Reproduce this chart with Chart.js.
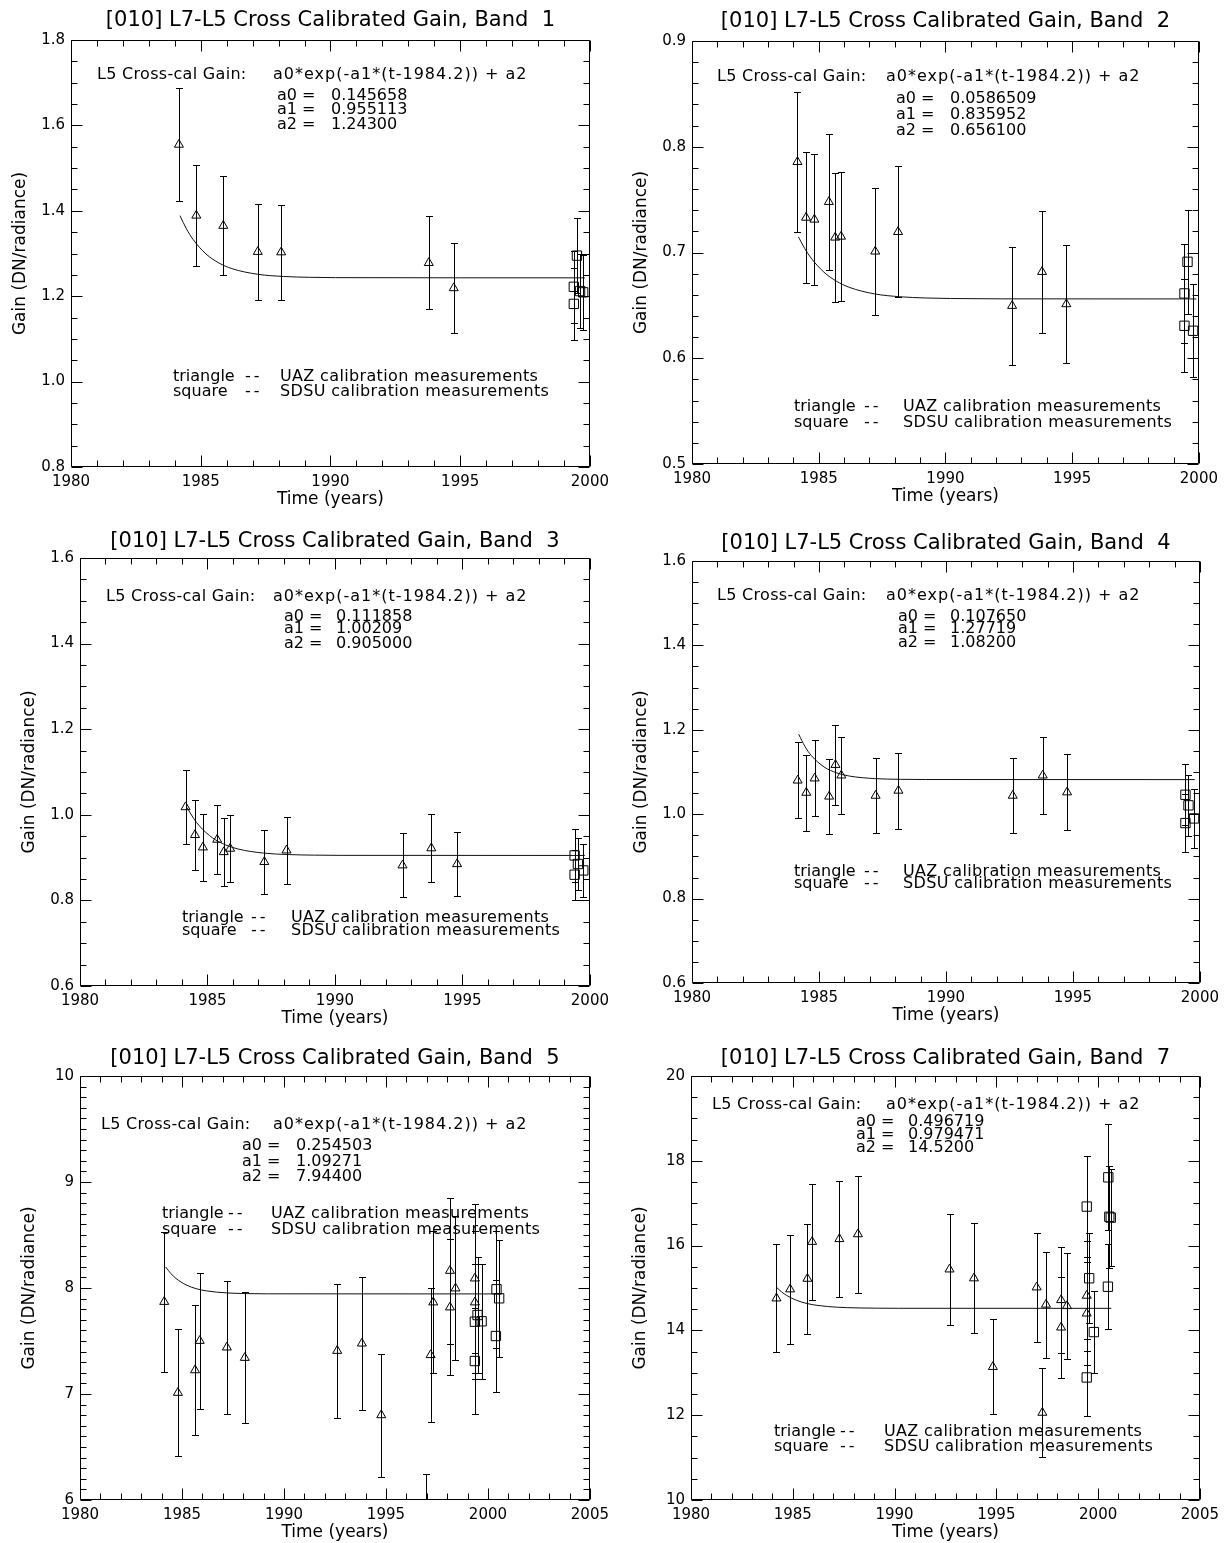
<!DOCTYPE html>
<html>
<head>
<meta charset="utf-8">
<script src="https://cdn.jsdelivr.net/npm/chart.js@4.4.1/dist/chart.umd.min.js"></script>
<style>
html, body { margin: 0; padding: 0; background: #fff; }
body { width: 1228px; height: 1543px; position: relative; overflow: hidden; }
.panel { position: absolute; }
.panel canvas { display: block; }
</style>
</head>
<body>
<script>
// ---------------- DATA ----------------
const bandNames = ['1', '2', '3', '4', '5', '7'];
const a0Text = ['0.145658', '0.0586509', '0.111858', '0.107650', '0.254503', '0.496719'];
const a1Text = ['0.955113', '0.835952', '1.00209', '1.27719', '1.09271', '0.979471'];
const a2Text = ['1.24300', '0.656100', '0.905000', '1.08200', '7.94400', '14.5200'];

const xMinVal = [1980, 1980, 1980, 1980, 1980, 1980];
const xMaxVal = [2000, 2000, 2000, 2000, 2005, 2005];
const yMinVal = [0.8, 0.5, 0.6, 0.6, 6, 10];
const yMaxVal = [1.8, 0.9, 1.6, 1.6, 10, 20];
const yTickStep = [0.2, 0.1, 0.2, 0.2, 1, 2];
const yMinorStep = [0.05, 0.02, 0.05, 0.05, 0.1, 0.5];
const yTickDecimals = [1, 1, 1, 1, 0, 0];
const xTickStep = 5;
const xMinorStep = 1;

// Band 1
const band1UazTime = [1984.16, 1984.83, 1985.87, 1987.2, 1988.1, 1993.79, 1994.75];
const band1UazGain = [1.555, 1.389, 1.365, 1.304, 1.303, 1.278, 1.219];
const band1UazErr  = [0.133, 0.118, 0.116, 0.112, 0.111, 0.109, 0.105];
const band1SdsuTime = [1999.38, 1999.38, 1999.5, 1999.62, 1999.74];
const band1SdsuGain = [1.222, 1.182, 1.295, 1.212, 1.209];
const band1SdsuErr  = [0.085, 0.085, 0.088, 0.087, 0.087];
const band1FitTime = [1984.2, 1984.45, 1984.7, 1985.2, 1985.7, 1986.2, 1987.2, 1988.2, 1989.2, 1990.2, 1999.8];
const band1FitGain = [1.3887, 1.3577, 1.3334, 1.2991, 1.2778, 1.2646, 1.2513, 1.2462, 1.2442, 1.2435, 1.2430];

// Band 2
const band2UazTime = [1984.16, 1984.5, 1984.83, 1985.4, 1985.65, 1985.88, 1987.23, 1988.13, 1992.63, 1993.81, 1994.77];
const band2UazGain = [0.7857, 0.733, 0.7312, 0.7479, 0.7142, 0.7151, 0.701, 0.7195, 0.6496, 0.6817, 0.6512];
const band2UazErr  = [0.066, 0.062, 0.062, 0.064, 0.061, 0.061, 0.06, 0.062, 0.056, 0.058, 0.056];
const band2SdsuTime = [1999.43, 1999.43, 1999.55, 1999.77];
const band2SdsuGain = [0.6613, 0.6307, 0.6912, 0.626];
const band2SdsuErr  = [0.047, 0.044, 0.049, 0.044];
const band2FitTime = [1984.2, 1984.45, 1984.7, 1985.2, 1985.7, 1986.2, 1987.2, 1988.2, 1989.2, 1990.2, 1992.2, 1999.9];
const band2FitGain = [0.71475, 0.70369, 0.69472, 0.68152, 0.67284, 0.66712, 0.66088, 0.65817, 0.657, 0.65649, 0.65617, 0.6561];

// Band 3
const band3UazTime = [1984.14, 1984.51, 1984.82, 1985.38, 1985.64, 1985.89, 1987.23, 1988.1, 1992.65, 1993.78, 1994.79];
const band3UazGain = [1.018, 0.953, 0.924, 0.942, 0.913, 0.921, 0.890, 0.917, 0.882, 0.922, 0.885];
const band3UazErr  = [0.086, 0.082, 0.079, 0.08, 0.079, 0.078, 0.075, 0.078, 0.075, 0.079, 0.075];
const band3SdsuTime = [1999.4, 1999.4, 1999.53, 1999.74];
const band3SdsuGain = [0.905, 0.860, 0.885, 0.870];
const band3SdsuErr  = [0.062, 0.058, 0.060, 0.062];
const band3FitTime = [1984.2, 1984.45, 1984.7, 1985.2, 1985.7, 1986.2, 1987.2, 1988.2, 1989.2, 1990.2, 1999.8];
const band3FitGain = [1.01686, 0.99207, 0.97278, 0.94606, 0.92988, 0.92008, 0.91053, 0.90703, 0.90575, 0.90527, 0.905];

// Band 4
const band4UazTime = [1984.16, 1984.5, 1984.83, 1985.4, 1985.65, 1985.88, 1987.23, 1988.13, 1992.63, 1993.81, 1994.77];
const band4UazGain = [1.080, 1.051, 1.085, 1.042, 1.117, 1.092, 1.044, 1.056, 1.044, 1.092, 1.052];
const band4UazErr  = [0.09, 0.09, 0.09, 0.089, 0.095, 0.092, 0.088, 0.09, 0.088, 0.092, 0.09];
const band4SdsuTime = [1999.43, 1999.43, 1999.55, 1999.77];
const band4SdsuGain = [1.046, 0.979, 1.021, 0.990];
const band4SdsuErr  = [0.072, 0.068, 0.073, 0.07];
const band4FitTime = [1984.2, 1984.45, 1984.7, 1985.2, 1985.7, 1986.2, 1987.2, 1988.2, 1989.2, 1999.8];
const band4FitGain = [1.18965, 1.16023, 1.13884, 1.11201, 1.09785, 1.09037, 1.08433, 1.08265, 1.08218, 1.082];

// Band 5
const band5UazTime = [1984.13, 1984.8, 1985.64, 1985.87, 1987.2, 1988.08, 1992.61, 1993.82, 1994.77, 1996.94, 1997.19, 1997.32, 1998.14, 1998.14, 1998.41, 1999.36, 1999.36];
const band5UazGain = [7.87, 7.012, 7.225, 7.502, 7.44, 7.342, 7.408, 7.477, 6.801, 5.65, 7.368, 7.865, 8.163, 7.818, 7.997, 8.091, 7.865];
const band5UazErr  = [0.66, 0.6, 0.61, 0.64, 0.63, 0.62, 0.63, 0.63, 0.58, 0.6, 0.63, 0.67, 0.69, 0.64, 0.68, 0.7, 0.67];
const band5SdsuTime = [1999.36, 1999.36, 1999.49, 1999.69, 2000.39, 2000.42, 2000.55];
const band5SdsuGain = [7.311, 7.682, 7.745, 7.686, 7.547, 7.988, 7.903];
const band5SdsuErr  = [0.5, 0.54, 0.55, 0.54, 0.53, 0.55, 0.55];
const band5FitTime = [1984.2, 1984.45, 1984.7, 1985.2, 1985.7, 1986.2, 1987.2, 1988.2, 1989.2, 2000.7];
const band5FitGain = [8.1985, 8.13765, 8.09136, 8.02933, 7.9934, 7.97261, 7.95359, 7.94722, 7.94508, 7.944];

// Band 7
const band7UazTime = [1984.2, 1984.87, 1985.72, 1985.95, 1987.29, 1988.2, 1992.7, 1993.9, 1994.83, 1996.98, 1997.26, 1997.44, 1998.18, 1998.18, 1998.47, 1999.44, 1999.44];
const band7UazGain = [14.757, 14.97, 15.22, 16.09, 16.156, 16.27, 15.44, 15.23, 13.14, 15.016, 12.06, 14.61, 14.717, 14.07, 14.575, 14.82, 14.4];
const band7UazErr  = [1.27, 1.28, 1.3, 1.37, 1.37, 1.38, 1.31, 1.3, 1.12, 1.28, 1.05, 1.25, 1.25, 1.2, 1.24, 1.3, 1.22];
const band7SdsuTime = [1999.44, 1999.44, 1999.56, 1999.79, 2000.48, 2000.5, 2000.55, 2000.62];
const band7SdsuGain = [16.92, 12.89, 15.23, 13.96, 15.03, 17.61, 16.68, 16.66];
const band7SdsuErr  = [1.2, 0.9, 1.06, 0.96, 1.0, 1.25, 1.2, 1.15];
const band7FitTime = [1984.2, 1984.45, 1984.7, 1985.2, 1985.7, 1986.2, 1987.2, 1988.2, 1989.2, 1990.2, 2000.65];
const band7FitGain = [15.0167, 14.9088, 14.8244, 14.7065, 14.6343, 14.59, 14.5463, 14.5299, 14.5237, 14.5214, 14.52];

const uazTime = [band1UazTime, band2UazTime, band3UazTime, band4UazTime, band5UazTime, band7UazTime];
const uazGain = [band1UazGain, band2UazGain, band3UazGain, band4UazGain, band5UazGain, band7UazGain];
const uazErr  = [band1UazErr, band2UazErr, band3UazErr, band4UazErr, band5UazErr, band7UazErr];
const sdsuTime = [band1SdsuTime, band2SdsuTime, band3SdsuTime, band4SdsuTime, band5SdsuTime, band7SdsuTime];
const sdsuGain = [band1SdsuGain, band2SdsuGain, band3SdsuGain, band4SdsuGain, band5SdsuGain, band7SdsuGain];
const sdsuErr  = [band1SdsuErr, band2SdsuErr, band3SdsuErr, band4SdsuErr, band5SdsuErr, band7SdsuErr];
const fitTime = [band1FitTime, band2FitTime, band3FitTime, band4FitTime, band5FitTime, band7FitTime];
const fitGain = [band1FitGain, band2FitGain, band3FitGain, band4FitGain, band5FitGain, band7FitGain];

// ---------------- LAYOUT (positions only) ----------------
const panelLayout = [
  { plot: [71, 40, 590, 467],   tGap: 19, fx: 26, fy: 35, ex: 202, ax: 206, vx: 260, ay: [56, 70, 85],  lx: 102, dx: 174, tx: 209, ly: [337, 352] },
  { plot: [692, 41, 1199, 464], tGap: 19, fx: 25, fy: 36, ex: 194, ax: 204, vx: 258, ay: [58, 74, 90],  lx: 102, dx: 172, tx: 211, ly: [366, 382] },
  { plot: [80, 558, 590, 986],  tGap: 16, fx: 26, fy: 39, ex: 193, ax: 204, vx: 256, ay: [59, 71, 86],  lx: 102, dx: 171, tx: 211, ly: [360, 373] },
  { plot: [692, 561, 1200, 983],tGap: 17, fx: 25, fy: 35, ex: 194, ax: 206, vx: 258, ay: [56, 68, 82],  lx: 102, dx: 172, tx: 211, ly: [311, 323] },
  { plot: [80, 1076, 590, 1500],tGap: 17, fx: 21, fy: 49, ex: 193, ax: 162, vx: 216, ay: [70, 86, 101], lx: 82,  dx: 148, tx: 191, ly: [138, 154] },
  { plot: [691, 1076, 1200, 1500], tGap: 17, fx: 21, fy: 29, ex: 195, ax: 165, vx: 217, ay: [46, 59, 72], lx: 83, dx: 149, tx: 193, ly: [356, 371] }
];
const PAD_L = 71, PAD_T = 40, PAD_R = 25, PAD_B = 50;
const TITLE_SIZE = 21, TITLE_LH = 1.2;
const FONT = "'DejaVu Sans', sans-serif";
const INK = '#000';

Chart.defaults.font.family = FONT;
Chart.defaults.color = INK;

// ---------------- PLUGINS ----------------
const framePlugin = {
  id: 'frame',
  beforeDatasetsDraw(chart, args, opts) {
    const { ctx, chartArea: a, scales: { x, y } } = chart;
    ctx.save();
    ctx.strokeStyle = INK;
    ctx.lineWidth = 1;
    const L = Math.round(a.left) + 0.5, R = Math.round(a.right) - 0.5;
    const T = Math.round(a.top) + 0.5, B = Math.round(a.bottom) - 0.5;
    ctx.beginPath();
    ctx.rect(L, T, R - L, B - T);
    ctx.stroke();
    const major = 11, minor = 6;
    ctx.beginPath();
    for (let i = 0; ; i++) {
      const v = x.min + i * opts.xMinor;
      if (v > x.max + 1e-9) break;
      const q = (v - x.min) / opts.xMajor;
      const len = Math.abs(q - Math.round(q)) < 1e-6 ? major : minor;
      const px = Math.round(x.getPixelForValue(v)) + 0.5;
      ctx.moveTo(px, B); ctx.lineTo(px, B - len);
      ctx.moveTo(px, T); ctx.lineTo(px, T + len);
    }
    for (let i = 0; ; i++) {
      const v = y.min + i * opts.yMinor;
      if (v > y.max + 1e-9) break;
      const q = (v - y.min) / opts.yMajor;
      const len = Math.abs(q - Math.round(q)) < 1e-6 ? major : minor;
      const py = Math.round(y.getPixelForValue(v)) + 0.5;
      ctx.moveTo(L, py); ctx.lineTo(L + len, py);
      ctx.moveTo(R, py); ctx.lineTo(R - len, py);
    }
    ctx.stroke();
    ctx.restore();
  }
};

const errorBarPlugin = {
  id: 'errorBars',
  afterDatasetsDraw(chart) {
    const { ctx, chartArea: a, scales: { x, y } } = chart;
    ctx.save();
    ctx.beginPath();
    ctx.rect(a.left, a.top, a.right - a.left, a.bottom - a.top);
    ctx.clip();
    ctx.strokeStyle = INK;
    ctx.lineWidth = 1;
    chart.data.datasets.forEach(ds => {
      if (!ds.errors) return;
      ds.data.forEach((p, i) => {
        const e = ds.errors[i];
        const px = Math.round(x.getPixelForValue(p.x)) + 0.5;
        const yt = Math.round(y.getPixelForValue(p.y + e)) + 0.5;
        const yb = Math.round(y.getPixelForValue(p.y - e)) + 0.5;
        ctx.beginPath();
        ctx.moveTo(px, yt); ctx.lineTo(px, yb);
        ctx.moveTo(px - 3.5, yt); ctx.lineTo(px + 3.5, yt);
        ctx.moveTo(px - 3.5, yb); ctx.lineTo(px + 3.5, yb);
        ctx.stroke();
      });
    });
    ctx.restore();
  }
};

const annotationPlugin = {
  id: 'annot',
  afterDraw(chart, args, o) {
    const { ctx, chartArea: a } = chart;
    ctx.save();
    ctx.fillStyle = INK;
    ctx.font = '16px ' + FONT;
    ctx.textBaseline = 'middle';
    ctx.textAlign = 'left';
    const X = v => a.left + v, Y = v => a.top + v;
    ctx.letterSpacing = '0.3px';
    ctx.fillText('L5 Cross-cal Gain:', X(o.fx), Y(o.fy));
    ctx.letterSpacing = '1px';
    ctx.fillText('a0*exp(-a1*(t-1984.2)) + a2', X(o.ex), Y(o.fy));
    ctx.letterSpacing = '0px';
    const labels = ['a0 =', 'a1 =', 'a2 ='];
    o.values.forEach((val, k) => {
      ctx.fillText(labels[k], X(o.ax), Y(o.ay[k]));
      ctx.fillText(val, X(o.vx), Y(o.ay[k]));
    });
    ctx.fillText('triangle', X(o.lx), Y(o.ly[0]));
    ctx.fillText('square', X(o.lx), Y(o.ly[1]));
    ctx.letterSpacing = '3px';
    ctx.fillText('--', X(o.dx), Y(o.ly[0]));
    ctx.fillText('--', X(o.dx), Y(o.ly[1]));
    ctx.letterSpacing = '0.35px';
    ctx.fillText('UAZ calibration measurements', X(o.tx), Y(o.ly[0]));
    ctx.fillText('SDSU calibration measurements', X(o.tx), Y(o.ly[1]));
    ctx.restore();
  }
};

// ---------------- BUILD ----------------
function pts(ts, gs) { return ts.map((t, i) => ({ x: t, y: gs[i] })); }

for (let i = 0; i < 6; i++) {
  const L = panelLayout[i];
  const [pl, pt, pr, pb] = L.plot;
  const left = pl - PAD_L, top = pt - PAD_T;
  const w = (pr - pl) + PAD_L + PAD_R;
  const h = (pb - pt) + PAD_T + PAD_B;
  const div = document.createElement('div');
  div.className = 'panel';
  div.style.left = left + 'px';
  div.style.top = top + 'px';
  div.style.width = w + 'px';
  div.style.height = h + 'px';
  const cv = document.createElement('canvas');
  cv.width = w; cv.height = h;
  cv.style.width = w + 'px'; cv.style.height = h + 'px';
  div.appendChild(cv);
  document.body.appendChild(div);

  const titleLine = TITLE_SIZE * TITLE_LH;
  const tBottom = L.tGap - titleLine / 2;
  const tTop = PAD_T - titleLine - tBottom;

  const dec = yTickDecimals[i];
  new Chart(cv, {
    type: 'scatter',
    data: {
      datasets: [
        {
          label: 'L5 Cross-cal Gain fit',
          data: pts(fitTime[i], fitGain[i]),
          showLine: true,
          pointRadius: 0,
          borderColor: '#111',
          borderWidth: 1,
          cubicInterpolationMode: 'monotone',
          fill: false
        },
        {
          label: 'UAZ calibration measurements',
          data: pts(uazTime[i], uazGain[i]),
          errors: uazErr[i],
          pointStyle: 'triangle',
          pointRadius: 5.2,
          borderColor: INK,
          backgroundColor: 'rgba(0,0,0,0)',
          pointBorderWidth: 1,
          showLine: false
        },
        {
          label: 'SDSU calibration measurements',
          data: pts(sdsuTime[i], sdsuGain[i]),
          errors: sdsuErr[i],
          pointStyle: 'rect',
          pointRadius: 6.6,
          borderColor: INK,
          backgroundColor: 'rgba(0,0,0,0)',
          pointBorderWidth: 1,
          showLine: false
        }
      ]
    },
    options: {
      responsive: false,
      animation: false,
      events: [],
      layout: { padding: { left: 0, top: 0, right: PAD_R, bottom: 0 } },
      plugins: {
        legend: { display: false },
        tooltip: { enabled: false },
        title: {
          display: true,
          fullSize: false,
          text: '[010] L7-L5 Cross Calibrated Gain, Band  ' + bandNames[i],
          font: { family: FONT, size: TITLE_SIZE, weight: 'normal', lineHeight: TITLE_LH },
          color: INK,
          padding: { top: tTop, bottom: tBottom }
        },
        frame: { xMinor: xMinorStep, xMajor: xTickStep, yMinor: yMinorStep[i], yMajor: yTickStep[i] },
        annot: {
          fx: L.fx, fy: L.fy, ex: L.ex, ax: L.ax, vx: L.vx, ay: L.ay,
          lx: L.lx, dx: L.dx, tx: L.tx, ly: L.ly,
          values: [a0Text[i], a1Text[i], a2Text[i]]
        }
      },
      scales: {
        x: {
          type: 'linear',
          min: xMinVal[i],
          max: xMaxVal[i],
          grid: { display: false, drawTicks: false },
          border: { display: false },
          ticks: {
            stepSize: xTickStep,
            autoSkip: false,
            maxRotation: 0,
            padding: 6,
            color: INK,
            font: { family: FONT, size: 15 },
            callback: v => String(v)
          },
          title: {
            display: true,
            text: 'Time (years)',
            color: INK,
            font: { family: FONT, size: 17, lineHeight: 1.2 },
            padding: { top: 0, bottom: 7 }
          },
          afterFit: s => { s.height = PAD_B; }
        },
        y: {
          type: 'linear',
          min: yMinVal[i],
          max: yMaxVal[i],
          grid: { display: false, drawTicks: false },
          border: { display: false },
          ticks: {
            stepSize: yTickStep[i],
            autoSkip: false,
            padding: 6,
            color: INK,
            font: { family: FONT, size: 15 },
            callback: v => Number(v).toFixed(dec)
          },
          title: {
            display: true,
            text: 'Gain (DN/radiance)',
            color: INK,
            font: { family: FONT, size: 17, lineHeight: 1.2 },
            padding: { top: 10, bottom: 0 }
          },
          afterFit: s => { s.width = PAD_L; }
        }
      }
    },
    plugins: [framePlugin, errorBarPlugin, annotationPlugin]
  });
}
</script>
</body>
</html>
